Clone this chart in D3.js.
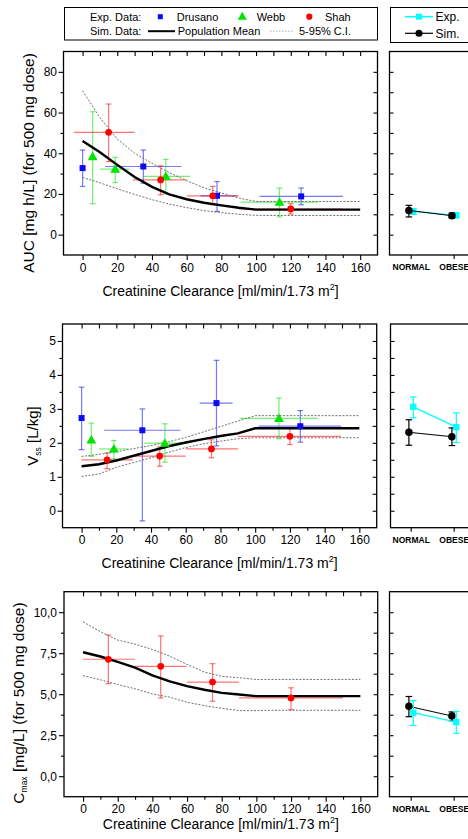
<!DOCTYPE html>
<html><head><meta charset="utf-8">
<script src="https://cdn.jsdelivr.net/npm/d3@7"></script>
<style>
body{margin:0;background:#fff}
text{font-family:"Liberation Sans",Arial,sans-serif;fill:#000}
</style>
</head><body><script>
// ---------------- DATA ----------------
const crcl = [0,10,20,30,40,50,60,70,80,90,100,110,120,130,140,150,160];
const crclTicks = [0,20,40,60,80,100,120,140,160];

const aucMean = [46.0,40.5,34.3,28.3,23.5,19.8,17.4,15.7,14.4,13.2,12.3,12.3,12.3,12.3,12.3,12.3,12.3];
const aucLow  = [28.1,25.5,22.5,19.8,17.2,15.0,13.3,11.8,10.8,10.0,9.5,9.4,9.4,9.4,9.4,9.4,9.4];
const aucHigh = [70.7,57.5,47.0,40.0,35.0,30.5,26.5,23.0,20.5,18.0,16.3,16.3,16.3,16.3,16.3,16.3,16.3];

const vssMean = [1.31,1.37,1.48,1.62,1.76,1.90,2.01,2.11,2.20,2.28,2.43,2.43,2.43,2.43,2.43,2.43,2.43];
const vssLow  = [1.01,1.08,1.28,1.42,1.56,1.72,1.86,1.97,2.05,2.12,2.15,2.15,2.15,2.15,2.15,2.15,2.15];
const vssHigh = [1.60,1.66,1.74,1.83,1.92,2.03,2.16,2.32,2.48,2.64,2.80,2.80,2.80,2.80,2.80,2.80,2.80];

const cmaxMean = [7.56,7.30,6.97,6.62,6.15,5.78,5.49,5.27,5.08,4.98,4.88,4.88,4.88,4.88,4.88,4.88,4.88];
const cmaxLow  = [6.13,5.88,5.59,5.33,5.02,4.82,4.51,4.30,4.14,4.00,4.00,4.02,4.02,4.02,4.02,4.02,4.02];
const cmaxHigh = [9.41,8.81,8.30,8.05,7.73,7.32,6.82,6.35,6.09,6.00,5.90,5.90,5.90,5.90,5.90,5.90,5.90];

// experimental points: [CrCl, CrCl low, CrCl high, value, value low, value high]
const drusanoAUC = [[0,null,null,32.7,23.7,41.6],[35,13,57,33.5,25.3,41.6],[77.5,68,89,19.1,11.4,26.1],[126,102,150,18.8,14.7,22.9]];
const webbAUC    = [[5.8,null,null,38.4,15.2,60.4],[18.8,10,27,32.2,25.6,38.0],[48,35,62,28.6,20.0,37.0],[113.5,91,136,16.0,8.7,22.9]];
const shahAUC    = [[15,-5,30,50.3,35.9,64.2],[45,29,60,26.9,19.6,33.8],[75,60,90,19.1,14.7,23.7],[120,90,150,12.6,10.1,15.2]];

const drusanoVss = [[0,null,null,2.73,1.80,3.64],[35,13,57,2.37,-0.3,3.00],[77.7,68,87,3.17,1.91,4.43],[126,102,149.5,2.49,2.02,2.95]];
const webbVss    = [[5.6,null,null,2.09,1.60,2.58],[18.6,10,27,1.82,1.53,2.07],[48,36,61,1.99,1.43,2.56],[113.7,91,136,2.72,2.12,3.32]];
const shahVss    = [[14.7,0,29.5,1.50,1.24,1.70],[45,30,60,1.61,1.31,1.88],[74.8,60,90,1.82,1.56,2.09],[120,90,149.5,2.19,1.95,2.42]];

const shahCmax   = [[14.6,0,30,7.13,5.64,8.61],[44.8,30,59.6,6.70,4.77,8.55],[74.7,60,90,5.74,4.57,6.86],[120,90,150,4.77,4.06,5.39]];

const aucTicks  = [0,20,40,60,80];
const vssTicks  = [0,1,2,3,4,5];
const cmaxTicks = [0,2.5,5,7.5,10];

// obesity comparison: per group [value, low, high]
const groups  = ["NORMAL","OBESE"];
const aucExp  = [[11.4,10.0,12.8],[9.5,8.3,10.7]];
const aucSim  = [[11.9,8.7,14.4],[9.3,8.2,10.6]];
const vssExp  = [[3.06,2.74,3.35],[2.46,2.01,2.88]];
const vssSim  = [[2.31,1.93,2.68],[2.18,1.92,2.44]];
const cmaxExp = [[3.87,3.09,4.61],[3.30,2.62,3.95]];
const cmaxSim = [[4.26,3.63,4.86],[3.67,3.38,3.92]];

// ---------------- DRAW ----------------
const W = 468, H = 839;
const svg = d3.select("body").append("svg").attr("width", W).attr("height", H);
svg.append("rect").attr("width", W).attr("height", H).attr("fill", "#fff");

const BLUE = "#0a0af5", GREEN = "#00e400", RED = "#ff0000", CYAN = "#00ffff";
const studyStyle = [
  {color: BLUE, sym: d3.symbolSquare, size: 36},
  {color: GREEN, sym: d3.symbolTriangle, size: 42},
  {color: RED, sym: d3.symbolCircle, size: 36}
];

function styleAxis(sel) {
  sel.select(".domain").remove();
  sel.selectAll("line").attr("stroke", "#000").attr("stroke-width", 1.1);
}

function leftPanel(p) {
  const x = d3.scaleLinear().domain([-11, 170]).range([p.x0, p.x1]);
  const y = d3.scaleLinear().domain(p.yDom).range([p.y1, p.y0]);
  const g = svg.append("g");

  // bottom axis (outward)
  const minorX = d3.range(10, 160, 20);
  g.append("g").attr("transform", `translate(0,${p.y1})`)
    .call(d3.axisBottom(x).tickValues(crclTicks).tickSize(5).tickPadding(3))
    .call(styleAxis)
    .selectAll("text").attr("font-size", 12).attr("fill", "#000");
  g.append("g").attr("transform", `translate(0,${p.y1})`)
    .call(d3.axisBottom(x).tickValues(minorX).tickSize(3).tickFormat(""))
    .call(styleAxis);
  // top axis (inward)
  g.append("g").attr("transform", `translate(0,${p.y0})`)
    .call(d3.axisBottom(x).tickValues(d3.range(0, 161, 10)).tickSize(4.5).tickFormat(""))
    .call(styleAxis);
  // left axis (outward)
  g.append("g").attr("transform", `translate(${p.x0},0)`)
    .call(d3.axisLeft(y).tickValues(p.yTicks).tickSize(5).tickPadding(p.pad).tickFormat(p.fmt))
    .call(styleAxis)
    .selectAll("text").attr("font-size", 12).attr("fill", "#000");
  g.append("g").attr("transform", `translate(${p.x0},0)`)
    .call(d3.axisLeft(y).tickValues(p.yMinor).tickSize(3).tickFormat(""))
    .call(styleAxis);
  // right axis (inward)
  g.append("g").attr("transform", `translate(${p.x1},0)`)
    .call(d3.axisRight(y).tickValues(p.yMinor.concat(p.yTicks)).tickSize(-4).tickFormat(""))
    .call(styleAxis);

  // error bars
  p.studies.forEach((pts, si) => {
    const col = studyStyle[si].color;
    const eg = g.append("g").attr("stroke", col).attr("stroke-opacity", 0.55).attr("stroke-width", 1.2).attr("fill", "none");
    pts.forEach(d => {
      if (d[1] !== null) {
        eg.append("line").attr("x1", x(d[1])).attr("x2", x(d[2])).attr("y1", y(d[3])).attr("y2", y(d[3]));
      }
      eg.append("line").attr("x1", x(d[0])).attr("x2", x(d[0])).attr("y1", y(d[4])).attr("y2", y(d[5]));
      [d[4], d[5]].forEach(v => eg.append("line")
        .attr("x1", x(d[0]) - 2.8).attr("x2", x(d[0]) + 2.8).attr("y1", y(v)).attr("y2", y(v)));
    });
  });

  // simulation lines
  const line = arr => d3.line().x((d, i) => x(crcl[i])).y(d => y(d))(arr);
  [p.low, p.high].forEach(arr => g.append("path").attr("d", line(arr))
    .attr("fill", "none").attr("stroke", "#707070").attr("stroke-width", 1).attr("stroke-dasharray", "2,1.5"));
  g.append("path").attr("d", line(p.mean)).attr("fill", "none").attr("stroke", "#000").attr("stroke-width", 2.4);

  // markers
  p.studies.forEach((pts, si) => {
    const st = studyStyle[si];
    g.selectAll(null).data(pts).enter().append("path")
      .attr("d", d3.symbol().type(st.sym).size(st.size))
      .attr("transform", d => `translate(${x(d[0])},${y(d[3]) + (si === 1 ? 0.8 : 0)})`)
      .attr("fill", st.color);
  });

  // frame
  g.append("rect").attr("x", p.x0).attr("y", p.y0).attr("width", p.x1 - p.x0).attr("height", p.y1 - p.y0)
    .attr("fill", "none").attr("stroke", "#000").attr("stroke-width", 1.3);

  // x title
  const xt = g.append("text").attr("x", (p.x0 + p.x1) / 2).attr("y", p.xtY).attr("text-anchor", "middle").attr("font-size", 14);
  xt.append("tspan").text("Creatinine Clearance [ml/min/1.73 m");
  xt.append("tspan").text("2").attr("font-size", 9).attr("dy", -6);
  xt.append("tspan").text("]").attr("dy", 6);

  // y title
  const yt = g.append("text").attr("transform", `translate(${p.ytX},${p.ytY}) rotate(-90)`)
    .attr("text-anchor", "middle").attr("font-size", p.ytSize);
  p.ytParts.forEach(part => {
    const t = yt.append("tspan").text(part.t);
    if (part.sub) t.attr("font-size", 8.5).attr("dy", 3);
    if (part.back) t.attr("dy", -3);
  });
  return y;
}

function rightPanel(p, y, exp, sim) {
  const xs = d3.scalePoint().domain(groups).range([410.7, 453.7]);
  const g = svg.append("g");
  // left inward ticks
  g.append("g").attr("transform", `translate(${p.rx0},0)`)
    .call(d3.axisRight(y).tickValues(p.rTicks).tickSize(4).tickFormat(""))
    .call(styleAxis);
  // bottom ticks + labels
  const bx = g.append("g").attr("transform", `translate(0,${p.y1})`)
    .call(d3.axisBottom(xs).tickSize(4).tickPadding(5))
    .call(styleAxis);
  bx.selectAll("text").attr("font-size", 8.5).attr("font-weight", "bold").attr("fill", "#000");

  const series = [
    {data: sim, color: "#000", off: -1.8, lw: 1, sym: d3.symbolCircle, size: 44},
    {data: exp, color: CYAN, off: 2.6, lw: 1.3, sym: d3.symbolSquare, size: 40}
  ];
  const order = p.expFirst ? [series[1], series[0]] : [series[0], series[1]];
  order.forEach(s => {
    const pos = s.data.map((d, i) => [xs(groups[i]) + s.off, y(d[0])]);
    g.append("path").attr("d", d3.line()(pos)).attr("fill", "none").attr("stroke", s.color).attr("stroke-width", s.lw);
    s.data.forEach((d, i) => {
      const cx = xs(groups[i]) + s.off;
      const eg = g.append("g").attr("stroke", s.color).attr("stroke-width", 1.2);
      eg.append("line").attr("x1", cx).attr("x2", cx).attr("y1", y(d[1])).attr("y2", y(d[2]));
      [d[1], d[2]].forEach(v => eg.append("line").attr("x1", cx - 3.3).attr("x2", cx + 3.3).attr("y1", y(v)).attr("y2", y(v)));
    });
    g.selectAll(null).data(s.data).enter().append("path")
      .attr("d", d3.symbol().type(s.sym).size(s.size))
      .attr("transform", (d, i) => `translate(${xs(groups[i]) + s.off},${y(d[0])})`)
      .attr("fill", s.color);
  });
  g.append("rect").attr("x", p.rx0).attr("y", p.y0).attr("width", 140).attr("height", p.y1 - p.y0)
    .attr("fill", "none").attr("stroke", "#000").attr("stroke-width", 1.3);
}

const panels = [
  {x0: 63.5, x1: 377.5, y0: 51.5, y1: 255, yDom: [-10, 90], yTicks: aucTicks, yMinor: d3.range(10, 80, 20),
   fmt: d3.format("d"), pad: 1.5, mean: aucMean, low: aucLow, high: aucHigh,
   studies: [drusanoAUC, webbAUC, shahAUC], xtY: 296, ytX: 34, ytY: 163, ytSize: 15.5,
   ytParts: [{t: "AUC [mg h/L] (for 500 mg dose)"}],
   rx0: 389.5, rTicks: d3.range(0, 81, 10), exp: aucExp, sim: aucSim, expFirst: true},
  {x0: 62.5, x1: 376.7, y0: 324, y1: 527.7, yDom: [-0.5, 5.5], yTicks: vssTicks, yMinor: d3.range(0.5, 5, 1),
   fmt: d3.format("d"), pad: 1.5, mean: vssMean, low: vssLow, high: vssHigh,
   studies: [drusanoVss, webbVss, shahVss], xtY: 568, ytX: 38, ytY: 436, ytSize: 15,
   ytParts: [{t: "V"}, {t: "ss", sub: true}, {t: " [L/kg]", back: true}],
   rx0: 390.5, rTicks: d3.range(0, 5.01, 0.5), exp: vssExp, sim: vssSim, expFirst: false},
  {x0: 64, x1: 377.7, y0: 591.7, y1: 796.7, yDom: [-1.25, 11.25], yTicks: cmaxTicks, yMinor: [1.25, 3.75, 6.25, 8.75],
   fmt: v => d3.format(".1f")(v).replace(".", ","), pad: 2, mean: cmaxMean, low: cmaxLow, high: cmaxHigh,
   studies: [[], [], shahCmax], xtY: 829, ytX: 24, ytY: 703, ytSize: 15.5,
   ytParts: [{t: "C"}, {t: "max", sub: true}, {t: " [mg/L]  (for 500 mg dose)", back: true}],
   rx0: 389.5, rTicks: d3.range(0, 10.01, 1.25), exp: cmaxExp, sim: cmaxSim, expFirst: false}
];

panels.forEach(p => {
  const y = leftPanel(p);
  rightPanel(p, y, p.exp, p.sim);
});

// main legend
const lg = svg.append("g");
lg.append("rect").attr("x", 64.5).attr("y", 7.5).attr("width", 313).attr("height", 32.5)
  .attr("fill", "#fff").attr("stroke", "#000").attr("stroke-width", 1);
const lt = (t, x, y) => lg.append("text").attr("x", x).attr("y", y).attr("font-size", 11).text(t);
lt("Exp. Data:", 90, 20.5);
lt("Sim. Data:", 90, 34.8);
lg.append("path").attr("d", d3.symbol().type(d3.symbolSquare).size(25)).attr("transform", "translate(160.3,16.7)").attr("fill", BLUE);
lt("Drusano", 176.7, 20.5);
lg.append("path").attr("d", d3.symbol().type(d3.symbolTriangle).size(36)).attr("transform", "translate(242.3,17)").attr("fill", GREEN);
lt("Webb", 256.7, 20.5);
lg.append("path").attr("d", d3.symbol().type(d3.symbolCircle).size(30)).attr("transform", "translate(309.3,16.7)").attr("fill", RED);
lt("Shah", 325, 20.5);
lg.append("line").attr("x1", 148).attr("x2", 175).attr("y1", 31.2).attr("y2", 31.2).attr("stroke", "#000").attr("stroke-width", 2);
lt("Population Mean", 177.7, 34.8);
lg.append("line").attr("x1", 270).attr("x2", 293).attr("y1", 31.2).attr("y2", 31.2).attr("stroke", "#b0b0b0").attr("stroke-width", 1).attr("stroke-dasharray", "1.5,1.5");
lt("5-95% C.I.", 299, 34.8);

// right legend
const rg = svg.append("g");
rg.append("rect").attr("x", 390.5).attr("y", 7.5).attr("width", 120).attr("height", 35)
  .attr("fill", "#fff").attr("stroke", "#000").attr("stroke-width", 1);
rg.append("line").attr("x1", 405).attr("x2", 433).attr("y1", 16.7).attr("y2", 16.7).attr("stroke", CYAN).attr("stroke-width", 1.5);
rg.append("path").attr("d", d3.symbol().type(d3.symbolSquare).size(36)).attr("transform", "translate(419,16.7)").attr("fill", CYAN);
rg.append("text").attr("x", 435.5).attr("y", 21).attr("font-size", 12).text("Exp.");
rg.append("line").attr("x1", 405).attr("x2", 433).attr("y1", 33.3).attr("y2", 33.3).attr("stroke", "#000").attr("stroke-width", 1.2);
rg.append("path").attr("d", d3.symbol().type(d3.symbolCircle).size(40)).attr("transform", "translate(419,33.3)").attr("fill", "#000");
rg.append("text").attr("x", 435.5).attr("y", 37.5).attr("font-size", 12).text("Sim.");
</script></body></html>
